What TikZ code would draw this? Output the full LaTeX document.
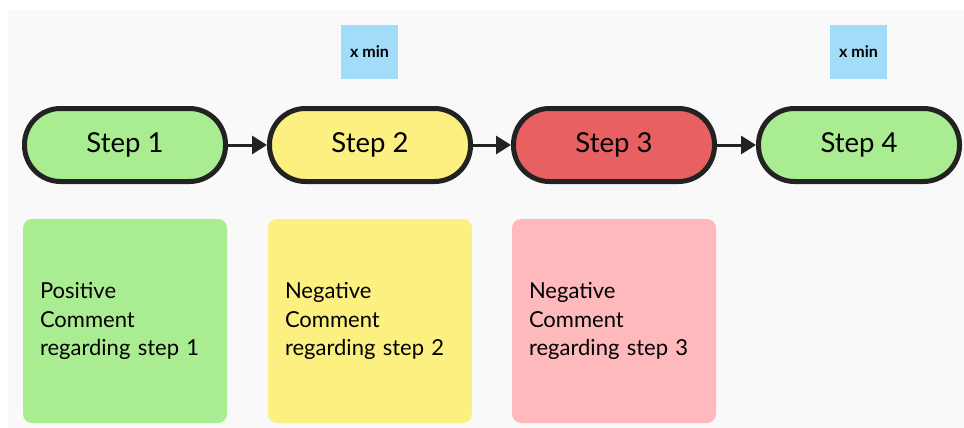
\documentclass[tikz,border=0pt]{standalone}
\usepackage{fontspec}
\setmainfont{Lato}
\usetikzlibrary{arrows.meta}
\definecolor{canvas}{HTML}{F9F9F9}
\definecolor{ink}{HTML}{222222}
\definecolor{okgreen}{HTML}{AAEC92}
\definecolor{warnyellow}{HTML}{FCF080}
\definecolor{badred}{HTML}{E96062}
\definecolor{notepink}{HTML}{FDB9BC}
\definecolor{timeblue}{HTML}{A1DDF8}
\tikzset{
  x=1pt, y=-1pt,
  stepbox/.style={draw=ink, line width=5pt, rounded corners=36pt,
    minimum width=201pt, minimum height=73pt, inner sep=0pt,
    font=\fontsize{27.5}{32}\selectfont},
  notebox/.style={rounded corners=9pt, minimum width=204pt, minimum height=204pt,
    inner sep=0pt, text width=170pt, align=left,
    font=\fontsize{22}{28.5}\selectfont},
  timebox/.style={fill=timeblue, minimum width=57pt, minimum height=54pt,
    inner sep=0pt, font=\bfseries\fontsize{16}{18}\selectfont},
  flow/.style={draw=ink, line width=3pt, -{Triangle[length=15pt,width=18pt]}}
}
\begin{document}
\begin{tikzpicture}
  \useasboundingbox (0,0) rectangle (964,428);
  \fill[white] (0,0) rectangle (964,428);
  \fill[canvas] (8,10) rectangle (964,428);

  % timing labels
  \node[timebox] (t2) at (369.5,52) {x min};
  \node[timebox] (t4) at (858.5,52) {x min};

  % process steps
  \node[stepbox, fill=okgreen]    (s1) at (125,145) {Step 1};
  \node[stepbox, fill=warnyellow] (s2) at (370,145) {Step 2};
  \node[stepbox, fill=badred]     (s3) at (614,145) {Step 3};
  \node[stepbox, fill=okgreen]    (s4) at (859,145) {Step 4};

  \draw[flow] (s1) -- (s2);
  \draw[flow] (s2) -- (s3);
  \draw[flow] (s3) -- (s4);

  % comments
  \node[notebox, fill=okgreen]    (c1) at (125,321) {Positive\\Comment\\regarding step 1};
  \node[notebox, fill=warnyellow] (c2) at (370,321) {Negative\\Comment\\regarding step 2};
  \node[notebox, fill=notepink]   (c3) at (614,321) {Negative\\Comment\\regarding step 3};
\end{tikzpicture}
\end{document}
